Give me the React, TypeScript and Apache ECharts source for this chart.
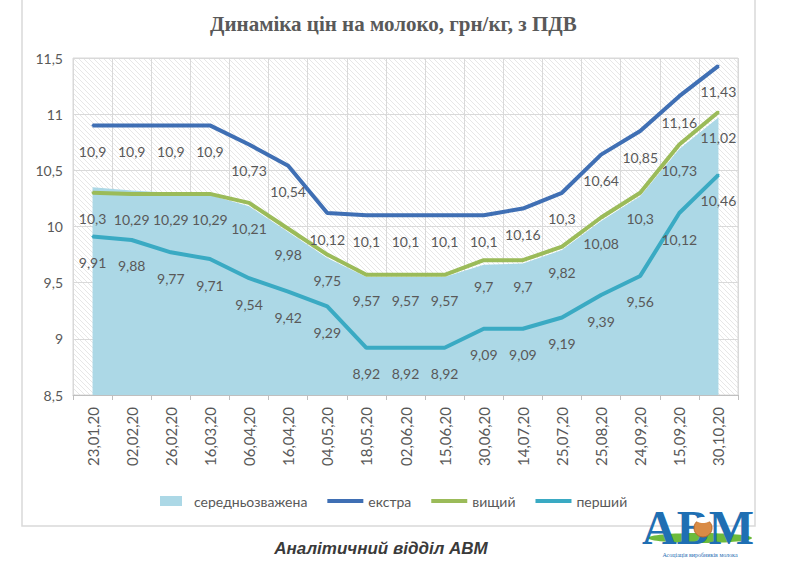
import React, { useEffect, useRef } from "react";
import * as echarts from "echarts";

const categories = [
  "23,01,20", "02,02,20", "26,02,20", "16,03,20", "06,04,20", "16,04,20",
  "04,05,20", "18,05,20", "02,06,20", "15,06,20", "30,06,20", "14,07,20",
  "25,07,20", "25,08,20", "24,09,20", "15,09,20", "30,10,20",
];
const avgValues = [10.35, 10.32, 10.3, 10.28, 10.18, 9.95, 9.72, 9.55, 9.55, 9.55, 9.66, 9.67, 9.79, 10.05, 10.27, 10.69, 10.97];
const extraValues = [10.9, 10.9, 10.9, 10.9, 10.73, 10.54, 10.12, 10.1, 10.1, 10.1, 10.1, 10.16, 10.3, 10.64, 10.85, 11.16, 11.43];
const higherValues = [10.3, 10.29, 10.29, 10.29, 10.21, 9.98, 9.75, 9.57, 9.57, 9.57, 9.7, 9.7, 9.82, 10.08, 10.3, 10.73, 11.02];
const firstValues = [9.91, 9.88, 9.77, 9.71, 9.54, 9.42, 9.29, 8.92, 8.92, 8.92, 9.09, 9.09, 9.19, 9.39, 9.56, 10.12, 10.46];
const seriesNames = ["середньозважена", "екстра", "вищий", "перший"];

const GRAY = "#595959";
const FONT = "Lato, 'Open Sans', sans-serif";

export default function App() {
  const ref = useRef<HTMLDivElement>(null);
  useEffect(() => {
    document.body.style.margin = "0";
    const chart = echarts.init(ref.current!, null, { renderer: "svg" });

    const cv = document.createElement("canvas");
    cv.width = 5;
    cv.height = 5;
    const ctx = cv.getContext("2d")!;
    ctx.fillStyle = "#ffffff";
    ctx.fillRect(0, 0, 5, 5);
    ctx.strokeStyle = "#dcdcdc";
    ctx.lineWidth = 0.7;
    ctx.beginPath();
    ctx.moveTo(-1, -1);
    ctx.lineTo(6, 6);
    ctx.moveTo(-1, 4);
    ctx.lineTo(1, 6);
    ctx.moveTo(4, -1);
    ctx.lineTo(6, 1);
    ctx.stroke();

    const fmt = (v: number) => String(v).replace(".", ",");
    const lineLabel = {
      show: true,
      position: "bottom" as const,
      distance: 18,
      color: GRAY,
      fontSize: 14,
      fontFamily: FONT,
      formatter: (p: any) => fmt(p.value),
    };
    const lineSeries = (name: string, data: number[], color: string, z: number) => ({
      name,
      type: "line",
      data,
      symbol: "circle",
      symbolSize: 2,
      showSymbol: true,
      z,
      lineStyle: { color, width: 4 },
      itemStyle: { color },
      label: lineLabel,
    });
    const lineIcon = "path://M0,0 L36,0 L36,4 L0,4 Z";

    chart.setOption({
      animation: false,
      backgroundColor: "#ffffff",
      title: {
        text: "Динаміка цін на молоко, грн/кг, з ПДВ",
        left: 205,
        top: 8,
        textStyle: {
          fontFamily: "Liberation Serif",
          fontWeight: "bold",
          fontSize: 21,
          color: GRAY,
        },
      },
      grid: {
        left: 73,
        right: 62,
        top: 58,
        bottom: 185,
        show: true,
        borderColor: "#d9d9d9",
        borderWidth: 1,
        backgroundColor: { image: cv, repeat: "repeat", imageWidth: 5, imageHeight: 5 } as any,
      },
      legend: {
        left: 155,
        top: 489,
        itemWidth: 36,
        itemHeight: 10,
        itemGap: 20,
        textStyle: { color: GRAY, fontSize: 14, fontFamily: FONT },
        data: [
          { name: seriesNames[0], icon: "path://M0,0 L22,0 L22,10 L0,10 Z" },
          { name: seriesNames[1], icon: lineIcon },
          { name: seriesNames[2], icon: lineIcon },
          { name: seriesNames[3], icon: lineIcon },
        ],
      },
      xAxis: {
        type: "category",
        data: categories,
        boundaryGap: true,
        axisLine: { show: true, lineStyle: { color: "#bfbfbf" } },
        axisTick: { show: true, length: 5, lineStyle: { color: "#bfbfbf" } },
        splitLine: { show: true, lineStyle: { color: "#d9d9d9", width: 1 } },
        axisLabel: {
          rotate: 90,
          margin: 12,
          color: GRAY,
          fontSize: 15,
          fontFamily: FONT,
          interval: 0,
        },
      },
      yAxis: {
        type: "value",
        min: 8.5,
        max: 11.5,
        interval: 0.5,
        axisLine: { show: false },
        axisTick: { show: false },
        splitLine: { show: true, lineStyle: { color: "#d9d9d9", width: 1 } },
        axisLabel: {
          color: GRAY,
          fontSize: 14,
          fontFamily: FONT,
          margin: 10,
          formatter: (v: number) => fmt(v),
        },
      },
      series: [
        {
          name: seriesNames[0],
          type: "line",
          data: avgValues,
          symbol: "none",
          z: 1,
          lineStyle: { width: 0, color: "#acd8e6" },
          itemStyle: { color: "#acd8e6" },
          areaStyle: { color: "#acd8e6", opacity: 1 },
        },
        lineSeries(seriesNames[1], extraValues, "#3f6fb4", 3),
        lineSeries(seriesNames[2], higherValues, "#9bbb59", 3),
        lineSeries(seriesNames[3], firstValues, "#3aaac3", 3),
      ],
      graphic: [
        {
          type: "rect",
          shape: { x: 22, y: -2, width: 733, height: 528 },
          style: { fill: "none", stroke: "#d9d9d9", lineWidth: 1.5 },
          silent: true,
          z: -1,
        },
        {
          type: "text",
          x: 381,
          y: 548,
          style: {
            text: "Аналітичний відділ АВМ",
            fill: "#3a3a3a",
            font: "italic bold 17px 'Liberation Sans', Arial, sans-serif",
            align: "center",
            verticalAlign: "middle",
          },
        },
        {
          type: "ellipse",
          shape: { cx: 700, cy: 538, rx: 52, ry: 5 },
          style: { fill: "#6dbb3c" },
        },
        {
          type: "text",
          x: 698,
          y: 527,
          style: {
            text: "АВМ",
            fill: "#1f6fb3",
            font: "bold 48px 'Liberation Serif', serif",
            align: "center",
            verticalAlign: "middle",
          },
        },
        {
          type: "circle",
          shape: { cx: 703, cy: 528, r: 9 },
          style: { fill: "#d98b45", stroke: "#b8682a", lineWidth: 1 },
        },
        {
          type: "ellipse",
          shape: { cx: 703, cy: 520, rx: 7, ry: 3 },
          style: { fill: "#ffffff" },
        },
        {
          type: "text",
          x: 700,
          y: 555,
          style: {
            text: "Асоціація виробників молока",
            fill: "#1f6fb3",
            font: "6px 'Liberation Serif', serif",
            align: "center",
            verticalAlign: "middle",
          },
        },
      ],
    });
    return () => chart.dispose();
  }, []);
  return <div ref={ref} style={{ width: 800, height: 580 }} />;
}
